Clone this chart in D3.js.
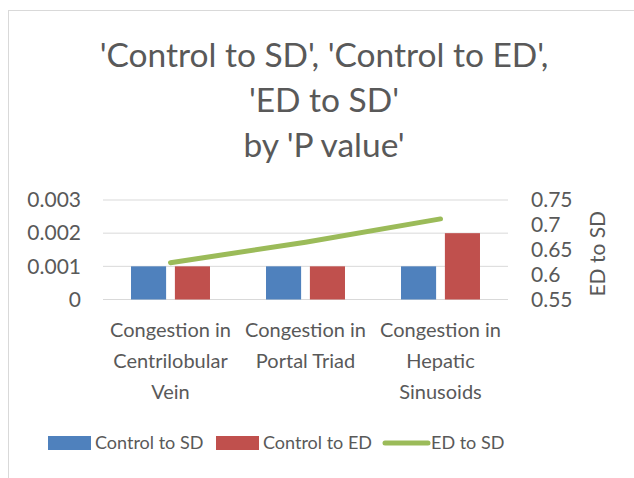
<!DOCTYPE html>
<html>
<head>
<meta charset="utf-8">
<script src="https://cdn.jsdelivr.net/npm/d3@7"></script>
<style>
  body { margin: 0; background: #fff; }
  svg { display: block; font-family: Lato, "Open Sans", sans-serif; }
</style>
</head>
<body>
<svg id="chart" width="634" height="478"></svg>
<script>
// data
const categories = [
  ["Congestion in", "Centrilobular", "Vein"],
  ["Congestion in", "Portal Triad"],
  ["Congestion in", "Hepatic", "Sinusoids"]
];
const series = ["Control to SD", "Control to ED"];
const controlToSD = [0.001, 0.001, 0.001];
const controlToED = [0.001, 0.001, 0.002];
const edToSD = [0.624, 0.665, 0.712];
const leftTicks = [0, 0.001, 0.002, 0.003];
const rightTicks = [0.55, 0.6, 0.65, 0.7, 0.75];
const titleLines = ["'Control to SD', 'Control to ED',", "'ED to SD'", "by 'P value'"];

const colors = { "Control to SD": "#4F81BD", "Control to ED": "#C0504D", line: "#9BBB59" };
const textColor = "#595959";

const svg = d3.select("#chart");

// chart border (Excel chart area), right and bottom edges fall outside
svg.append("rect")
  .attr("x", 8.5).attr("y", 10.5)
  .attr("width", 700).attr("height", 500)
  .attr("fill", "none").attr("stroke", "#d9d9d9");

const plot = { left: 103, right: 508, top: 200, bottom: 299.5 };

const x0 = d3.scaleBand()
  .domain(d3.range(categories.length))
  .range([plot.left, plot.right]);

const groupW = x0.bandwidth() * 0.585;
const x1 = d3.scaleBand()
  .domain(series)
  .range([-groupW / 2, groupW / 2])
  .paddingInner(0.2);

const yL = d3.scaleLinear().domain([0, 0.003]).range([plot.bottom, plot.top]);
const yR = d3.scaleLinear().domain([0.55, 0.75]).range([plot.bottom, plot.top]);

// title
svg.append("text")
  .attr("text-anchor", "middle")
  .attr("fill", textColor)
  .attr("font-size", 33.5)
  .selectAll("tspan")
  .data(titleLines)
  .join("tspan")
  .attr("x", 324)
  .attr("y", (d, i) => 67 + i * 45)
  .text(d => d);

// gridlines
svg.append("g")
  .selectAll("line")
  .data(leftTicks)
  .join("line")
  .attr("x1", plot.left).attr("x2", plot.right)
  .attr("y1", d => yL(d)).attr("y2", d => yL(d))
  .attr("stroke", "#d9d9d9").attr("stroke-width", 1);

// left axis
const axL = svg.append("g")
  .attr("transform", `translate(${plot.left - 22},0)`)
  .call(d3.axisLeft(yL).tickValues(leftTicks).tickSize(0).tickPadding(0)
    .tickFormat(d => d === 0 ? "0" : d3.format(".3f")(d)));
axL.select(".domain").remove();
axL.selectAll("text").attr("fill", textColor).attr("font-size", 21)
  .attr("font-family", "Lato, 'Open Sans', sans-serif");

// right axis
const axR = svg.append("g")
  .attr("transform", `translate(${plot.right + 23},0)`)
  .call(d3.axisRight(yR).tickValues(rightTicks).tickSize(0).tickPadding(0)
    .tickFormat(d => d3.format("")(d)));
axR.select(".domain").remove();
axR.selectAll("text").attr("fill", textColor).attr("font-size", 21)
  .attr("font-family", "Lato, 'Open Sans', sans-serif");

svg.append("text")
  .attr("transform", `translate(598,${(plot.top + plot.bottom) / 2 + 4}) rotate(-90)`)
  .attr("text-anchor", "middle")
  .attr("dy", "0.35em")
  .attr("fill", textColor)
  .attr("font-size", 21)
  .text("ED to SD");

// bars
const barData = categories.map((c, i) => ({
  i,
  vals: [
    { s: "Control to SD", v: controlToSD[i] },
    { s: "Control to ED", v: controlToED[i] }
  ]
}));

svg.append("g")
  .selectAll("g")
  .data(barData)
  .join("g")
  .attr("transform", d => `translate(${x0(d.i) + x0.bandwidth() / 2},0)`)
  .selectAll("rect")
  .data(d => d.vals)
  .join("rect")
  .attr("x", d => x1(d.s))
  .attr("width", x1.bandwidth())
  .attr("y", d => yL(d.v))
  .attr("height", d => yL(0) - yL(d.v))
  .attr("fill", d => colors[d.s]);

// line
const line = d3.line()
  .x((d, i) => x0(i) + x0.bandwidth() / 2)
  .y(d => yR(d));

svg.append("path")
  .datum(edToSD)
  .attr("d", line)
  .attr("fill", "none")
  .attr("stroke", colors.line)
  .attr("stroke-width", 5)
  .attr("stroke-linecap", "round");

// category labels
svg.append("g")
  .selectAll("text")
  .data(categories)
  .join("text")
  .attr("text-anchor", "middle")
  .attr("fill", textColor)
  .attr("font-size", 20)
  .each(function (d, i) {
    d3.select(this).selectAll("tspan")
      .data(d)
      .join("tspan")
      .attr("x", x0(i) + x0.bandwidth() / 2)
      .attr("y", (t, j) => 337 + j * 31)
      .text(t => t);
  });

// legend
const legendItems = [
  { name: "Control to SD", type: "bar", color: colors["Control to SD"], x: 48 },
  { name: "Control to ED", type: "bar", color: colors["Control to ED"], x: 216 },
  { name: "ED to SD", type: "line", color: colors.line, x: 384 }
];
const lg = svg.append("g")
  .selectAll("g")
  .data(legendItems)
  .join("g")
  .attr("transform", d => `translate(${d.x},443)`);

lg.filter(d => d.type === "bar").append("rect")
  .attr("x", 0).attr("y", -7).attr("width", 43).attr("height", 14)
  .attr("fill", d => d.color);
lg.filter(d => d.type === "line").append("line")
  .attr("x1", 1).attr("x2", 44).attr("y1", 0).attr("y2", 0)
  .attr("stroke", d => d.color).attr("stroke-width", 5)
  .attr("stroke-linecap", "round");
lg.append("text")
  .attr("x", d => d.type === "bar" ? 47 : 47)
  .attr("dy", "0.35em")
  .attr("fill", textColor)
  .attr("font-size", 18)
  .text(d => d.name);
</script>
</body>
</html>
